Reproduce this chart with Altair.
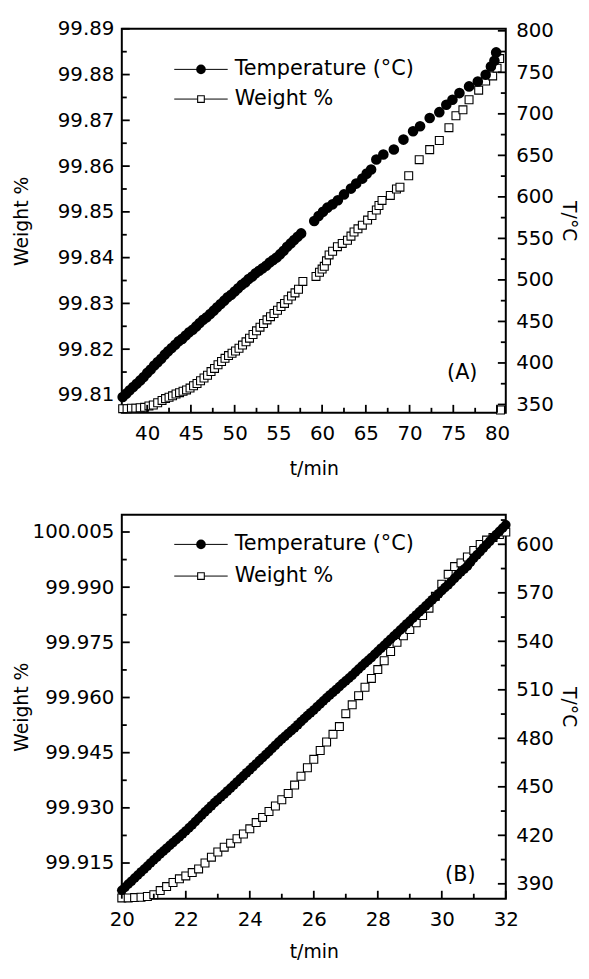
import altair as alt
import pandas as pd

# ---------------- data ----------------
SERIES = ["Temperature (°C)", "Weight %"]
PANEL_LABELS = ["(A)", "(B)"]

# Panel A : temperature (°C) vs t/min
A_temp_t = [37.2, 37.6, 38.0, 38.4, 38.8, 39.2, 39.6, 40.0, 40.4, 40.8,
            41.2, 41.6, 42.0, 42.4, 42.8, 43.2, 43.6, 44.0, 44.4, 44.8,
            45.2, 45.6, 46.0, 46.4, 46.8, 47.2, 47.6, 48.0, 48.4, 48.8,
            49.2, 49.6, 50.0, 50.4, 50.8, 51.2, 51.6, 52.0, 52.4, 52.8,
            53.2, 53.6, 54.0, 54.4, 54.8, 55.2, 55.6, 56.0, 56.4, 56.8,
            57.2, 57.6,
            59.1, 59.6, 60.1, 60.6, 61.2, 61.8, 62.5, 63.3, 63.9, 64.6,
            65.1, 65.6, 66.2, 67.0, 68.2, 69.3, 70.4, 71.2, 72.3, 73.4,
            74.2, 74.9, 75.7, 76.8, 77.8, 78.7, 79.3, 79.7, 79.9]
A_temp_T = [359, 363, 367, 371, 375, 379, 383, 388, 392, 397,
            401, 405, 410, 414, 418, 422, 426, 429, 433, 437,
            440, 444, 448, 452, 455, 459, 463, 467, 471, 475,
            479, 482, 486, 490, 494, 497, 501, 504, 508, 511,
            514, 517, 521, 524, 527, 531, 535, 540, 544, 548,
            552, 556,
            571, 577, 582, 587, 591, 596, 603, 610, 616, 622,
            628, 633, 645, 651, 657, 669, 679, 685, 695, 702,
            711, 717, 725, 733, 739, 747, 757, 764, 774]

# Panel A : weight % vs t/min
A_wt_t = [37.2, 37.7, 38.2, 38.7, 39.2, 39.7, 40.2, 40.7, 41.2, 41.7,
          42.1, 42.5, 42.9, 43.3, 43.7, 44.1, 44.5, 44.9, 45.3, 45.7,
          46.1, 46.5, 46.9, 47.3, 47.7, 48.1, 48.5, 48.9, 49.3, 49.7,
          50.1, 50.5, 50.9, 51.3, 51.7, 52.1, 52.5, 52.9, 53.3, 53.7,
          54.1, 54.5, 54.9, 55.3, 55.7, 56.1, 56.5, 56.9, 57.3, 57.8,
          59.3, 59.7, 60.0, 60.25, 60.5, 60.8, 61.2, 61.75, 62.3, 62.9,
          63.3, 63.65, 64.1, 64.6, 65.2, 65.7, 66.2, 66.5, 66.85, 67.8,
          68.5, 68.9, 69.9, 71.1, 72.3, 73.4, 74.5, 75.3, 76.1, 76.8,
          77.9, 78.7, 79.5, 80.0, 80.3, 80.4]
A_wt_w = [99.8070, 99.8070, 99.8071, 99.8071, 99.8072, 99.8073, 99.8076, 99.8078, 99.8083, 99.8088,
          99.8092, 99.8095, 99.8098, 99.8102, 99.8105, 99.8108, 99.8111, 99.8115, 99.8120, 99.8125,
          99.8131, 99.8137, 99.8143, 99.8151, 99.8158, 99.8166, 99.8173, 99.8180, 99.8186, 99.8191,
          99.8196, 99.8202, 99.8209, 99.8216, 99.8224, 99.8232, 99.8240, 99.8248, 99.8256, 99.8264,
          99.8271, 99.8278, 99.8285, 99.8293, 99.8300, 99.8308, 99.8316, 99.8323, 99.8331, 99.8348,
          99.8359, 99.8368, 99.8375, 99.8381, 99.8393, 99.8406, 99.8414, 99.8424, 99.8431, 99.8438,
          99.8447, 99.8456, 99.8463, 99.8471, 99.8482, 99.8492, 99.8504, 99.8514, 99.8525, 99.8536,
          99.8550, 99.8554, 99.8579, 99.8614, 99.8636, 99.8656, 99.8684, 99.8710, 99.8723, 99.8745,
          99.8766, 99.8786, 99.8797, 99.8814, 99.8835, 99.8067]

# Panel B : temperature (°C) vs t/min
B_temp_t = [20.0, 20.1, 20.2, 20.3, 20.4, 20.5, 20.6, 20.7, 20.8, 20.9,
            21.0, 21.1, 21.2, 21.3, 21.4, 21.5, 21.6, 21.7, 21.8, 21.9,
            22.0, 22.1, 22.2, 22.3, 22.4, 22.5, 22.6, 22.7, 22.8, 22.9,
            23.0, 23.1, 23.2, 23.3, 23.4, 23.5, 23.6, 23.7, 23.8, 23.9,
            24.0, 24.1, 24.2, 24.3, 24.4, 24.5, 24.6, 24.7, 24.8, 24.9,
            25.0, 25.1, 25.2, 25.3, 25.4, 25.5, 25.6, 25.7, 25.8, 25.9,
            26.0, 26.1, 26.2, 26.3, 26.4, 26.5, 26.6, 26.7, 26.8, 26.9,
            27.0, 27.1, 27.2, 27.3, 27.4, 27.5, 27.6, 27.7, 27.8, 27.9,
            28.0, 28.1, 28.2, 28.3, 28.4, 28.5, 28.6, 28.7, 28.8, 28.9,
            29.0, 29.1, 29.2, 29.3, 29.4, 29.5, 29.6, 29.7, 29.8, 29.9,
            30.0, 30.1, 30.2, 30.3, 30.4, 30.5, 30.6, 30.7, 30.8, 30.9,
            31.0, 31.1, 31.2, 31.3, 31.4, 31.5, 31.6, 31.7, 31.8, 31.9,
            32.0]
B_temp_T = [386.0, 387.9, 389.8, 391.6, 393.5, 395.4, 397.3, 399.1, 401.0, 402.9,
            404.8, 406.6, 408.5, 410.2, 412.0, 413.8, 415.5, 417.3, 419.0, 420.9,
            422.7, 424.6, 426.5, 428.5, 430.5, 432.5, 434.5, 436.4, 438.3, 440.2,
            442.0, 443.8, 445.5, 447.4, 449.2, 451.1, 453.0, 454.9, 456.8, 458.7,
            460.5, 462.4, 464.3, 466.2, 468.0, 469.9, 471.8, 473.8, 475.7, 477.6,
            479.5, 481.2, 483.0, 484.8, 486.5, 488.4, 490.3, 492.2, 494.0, 495.8,
            497.5, 499.4, 501.3, 503.2, 505.0, 506.8, 508.5, 510.2, 512.0, 513.8,
            515.5, 517.2, 519.0, 520.9, 522.8, 524.7, 526.5, 528.2, 530.0, 531.9,
            533.8, 535.7, 537.5, 539.4, 541.3, 543.2, 545.0, 546.9, 548.8, 550.7,
            552.5, 554.4, 556.3, 558.2, 560.0, 561.9, 563.8, 565.7, 567.5, 569.4,
            571.3, 573.2, 575.0, 577.0, 579.0, 581.0, 583.0, 584.7, 586.5, 589.0,
            591.5, 593.5, 595.5, 597.7, 599.8, 601.9, 604.0, 606.0, 608.0, 610.0,
            612.0]

# Panel B : weight % vs t/min
B_wt_t = [20.0, 20.2, 20.4, 20.6, 20.8, 21.0, 21.2, 21.4, 21.6, 21.8,
          22.0, 22.2, 22.4, 22.6, 22.8, 23.0, 23.2, 23.4, 23.6, 23.8,
          24.0, 24.2, 24.4, 24.6, 24.8, 25.0, 25.2, 25.4, 25.6, 25.8,
          26.0, 26.2, 26.4, 26.6, 26.8, 27.0, 27.2, 27.4, 27.6, 27.8,
          28.0, 28.2, 28.4, 28.6, 28.8, 29.0, 29.2, 29.4, 29.6, 29.8,
          30.0, 30.2, 30.4, 30.6, 30.8, 31.0, 31.2, 31.4, 31.6, 31.8,
          32.0]
B_wt_w = [99.9055, 99.9055, 99.9056, 99.9057, 99.9059, 99.9064, 99.9075, 99.9086, 99.9097, 99.9107,
          99.9115, 99.9124, 99.9134, 99.9150, 99.9166, 99.9180, 99.9193, 99.9204, 99.9216, 99.9229,
          99.9243, 99.9260, 99.9274, 99.9290, 99.9305, 99.9322, 99.9339, 99.9362, 99.9386, 99.9409,
          99.9432, 99.9456, 99.9479, 99.9500, 99.9521, 99.9556, 99.9580, 99.9605, 99.9628, 99.9652,
          99.9676, 99.9700, 99.9725, 99.9750, 99.9768, 99.9785, 99.9803, 99.9823, 99.9843, 99.9875,
          99.9908, 99.9935, 99.9956, 99.9966, 99.9982, 100.0000, 100.0016, 100.0028, 100.0035, 100.0043,
          100.0050]

# axis domains and tick values
A_x_domain = [37.1, 81.0]
A_w_domain = [99.8061, 99.8900]
A_T_domain = [340.0, 802.4]
A_x_major = [40, 45, 50, 55, 60, 65, 70, 75, 80]
A_x_minor = [42.5, 47.5, 52.5, 57.5, 62.5, 67.5, 72.5, 77.5]
A_w_major = [99.81, 99.82, 99.83, 99.84, 99.85, 99.86, 99.87, 99.88, 99.89]
A_w_minor = [99.815, 99.825, 99.835, 99.845, 99.855, 99.865, 99.875, 99.885]
A_T_major = [350, 400, 450, 500, 550, 600, 650, 700, 750, 800]
A_T_minor = [375, 425, 475, 525, 575, 625, 675, 725, 775]

B_x_domain = [20.0, 32.0]
B_w_domain = [99.9053, 100.0097]
B_T_domain = [380.8, 618.3]
B_x_major = [20, 22, 24, 26, 28, 30, 32]
B_x_minor = [21, 23, 25, 27, 29, 31]
B_w_major = [99.915, 99.930, 99.945, 99.960, 99.975, 99.990, 100.005]
B_w_minor = [99.9075, 99.9225, 99.9375, 99.9525, 99.9675, 99.9825, 99.9975]
B_T_major = [390, 420, 450, 480, 510, 540, 570, 600]
B_T_minor = [405, 435, 465, 495, 525, 555, 585, 615]

# ---------------- style ----------------
W = 388
H = 388
FONT = "DejaVu Sans"
LFS = 20   # tick label size
TFS = 19   # axis title size
MAJ = 8
MIN = 5
TW = 1.8

AX_STYLE = dict(labelFont=FONT, labelFontSize=LFS, labelColor="black",
                titleFont=FONT, titleFontSize=TFS, titleFontWeight="normal",
                titleColor="black", grid=False, ticks=False, tickSize=0,
                domain=False, labelFlush=False, labelOverlap=False)


def panel(temp_t, temp_T, wt_t, wt_w, xd, wd, Td, xmaj, xmin, wmaj, wmin, Tmaj, Tmin,
          wfmt, label, leg_y, lab_xy, sq_size, dot_size, xtitle_y):
    xs = alt.Scale(domain=xd, nice=False, zero=False)
    xax = alt.Axis(values=xmaj, format="d", title="t/min", labelPadding=11,
                   titleY=xtitle_y, titleBaseline="top", **AX_STYLE)
    ws = alt.Scale(domain=wd, nice=False, zero=False)
    wax = alt.Axis(orient="left", values=wmaj, format=wfmt, title="Weight %", labelPadding=8,
                   titleX=-91, titleY=H / 2, titleAngle=270, titleBaseline="bottom",
                   titleAlign="center", **AX_STYLE)
    Ts = alt.Scale(domain=Td, nice=False, zero=False)
    Tax = alt.Axis(orient="right", values=Tmaj, format="d", title="T/°C", labelPadding=10,
                   titleX=53, titleY=H / 2, titleAngle=90, titleBaseline="bottom",
                   titleAlign="center", **AX_STYLE)

    def X():
        return alt.X("t:Q", scale=xs, axis=xax)

    def Yw():
        return alt.Y("w:Q", scale=ws, axis=wax)

    def YT():
        return alt.Y("T:Q", scale=Ts, axis=Tax)

    df_w = pd.DataFrame({"t": wt_t, "w": wt_w})
    df_T = pd.DataFrame({"t": temp_t, "T": temp_T})

    squares = alt.Chart(df_w).mark_point(
        shape="square", filled=True, fill="white", stroke="black",
        strokeWidth=1.1, size=sq_size, opacity=1
    ).encode(x=X(), y=Yw())

    lt_maj = alt.Chart(pd.DataFrame({"w": wmaj})).mark_rule(color="black", strokeWidth=TW).encode(
        y=Yw(), x=alt.value(0), x2=alt.value(MAJ))
    lt_min = alt.Chart(pd.DataFrame({"w": wmin})).mark_rule(color="black", strokeWidth=TW).encode(
        y=Yw(), x=alt.value(0), x2=alt.value(MIN))
    bt_maj = alt.Chart(pd.DataFrame({"t": xmaj})).mark_rule(color="black", strokeWidth=TW).encode(
        x=X(), y=alt.value(H - MAJ), y2=alt.value(H))
    bt_min = alt.Chart(pd.DataFrame({"t": xmin})).mark_rule(color="black", strokeWidth=TW).encode(
        x=X(), y=alt.value(H - MIN), y2=alt.value(H))

    wgroup = alt.layer(squares, lt_maj, lt_min, bt_maj, bt_min)

    dots = alt.Chart(df_T).mark_point(
        shape="circle", filled=True, color="black", size=dot_size, opacity=1
    ).encode(x=X(), y=YT())
    rt_maj = alt.Chart(pd.DataFrame({"T": Tmaj})).mark_rule(color="black", strokeWidth=TW).encode(
        y=YT(), x=alt.value(W - MAJ), x2=alt.value(W))
    rt_min = alt.Chart(pd.DataFrame({"T": Tmin})).mark_rule(color="black", strokeWidth=TW).encode(
        y=YT(), x=alt.value(W - MIN), x2=alt.value(W))

    # legend (inside the frame, top-left)
    leg_layers = []
    for i, name in enumerate(SERIES):
        d = pd.DataFrame({"label": [name]})
        yy = leg_y[i]
        leg_layers.append(alt.Chart(d).mark_rule(color="black", strokeWidth=1).encode(
            x=alt.value(53), x2=alt.value(107), y=alt.value(yy)))
        if i == 0:
            leg_layers.append(alt.Chart(d).mark_point(
                shape="circle", filled=True, color="black", size=95, opacity=1).encode(
                x=alt.value(80), y=alt.value(yy)))
        else:
            leg_layers.append(alt.Chart(d).mark_point(
                shape="square", filled=True, fill="white", stroke="black",
                strokeWidth=1.1, size=45, opacity=1).encode(
                x=alt.value(80), y=alt.value(yy)))
        leg_layers.append(alt.Chart(d).mark_text(
            align="left", baseline="middle", font=FONT, fontSize=21, color="black").encode(
            x=alt.value(114), y=alt.value(yy), text="label:N"))

    lab = alt.Chart(pd.DataFrame({"label": [label]})).mark_text(
        align="center", baseline="middle", font=FONT, fontSize=21, color="black").encode(
        x=alt.value(lab_xy[0]), y=alt.value(lab_xy[1]), text="label:N")

    tgroup = alt.layer(dots, rt_maj, rt_min, *leg_layers, lab)

    return alt.layer(wgroup, tgroup).resolve_scale(y="independent").properties(width=W, height=H)


pa = panel(A_temp_t, A_temp_T, A_wt_t, A_wt_w, A_x_domain, A_w_domain, A_T_domain,
           A_x_major, A_x_minor, A_w_major, A_w_minor, A_T_major, A_T_minor,
           ".2f", PANEL_LABELS[0], [41, 71], (344, 348), 64, 115, 47)
pb = panel(B_temp_t, B_temp_T, B_wt_t, B_wt_w, B_x_domain, B_w_domain, B_T_domain,
           B_x_major, B_x_minor, B_w_major, B_w_minor, B_T_major, B_T_minor,
           ".3f", PANEL_LABELS[1], [30, 62], (342, 364), 64, 95, 44)

chart = alt.vconcat(pa, pb, spacing=35).properties(
    padding={"left": 4, "top": 5, "right": 3, "bottom": 0},
    background="white",
).configure(
    font=FONT
).configure_view(
    stroke="black", strokeWidth=2
).configure_axis(
    labelFont=FONT, labelFontSize=LFS, labelColor="black",
    titleFont=FONT, titleFontSize=TFS, titleFontWeight="normal", titleColor="black",
    grid=False, ticks=False, tickSize=0, domain=False
)

chart.save("out.html", embed_options={"renderer": "svg", "actions": False})
